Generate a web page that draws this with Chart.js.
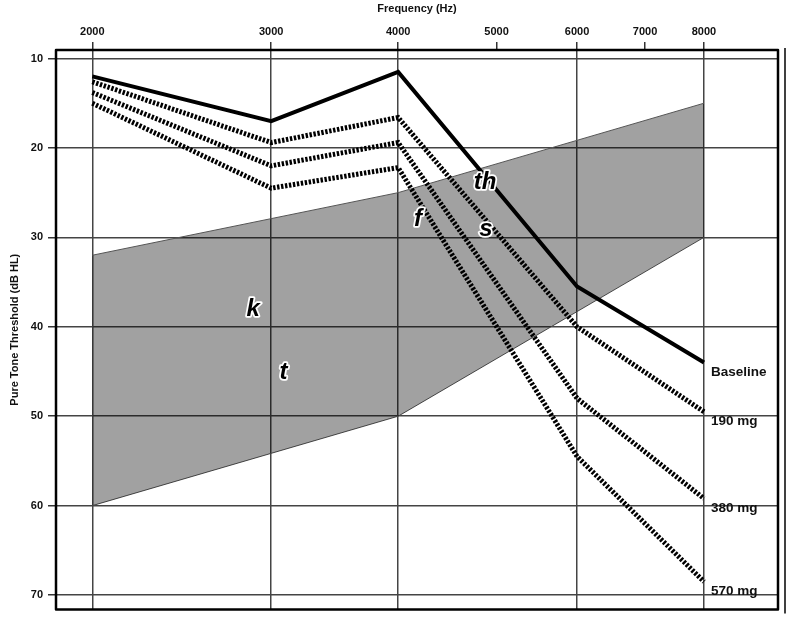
<!DOCTYPE html>
<html>
<head>
<meta charset="utf-8">
<script src="https://cdn.jsdelivr.net/npm/chart.js@4"></script>
<style>
  html, body { margin: 0; padding: 0; background: #fff; }
  #wrap { width: 800px; height: 621px; }
</style>
</head>
<body>
<div id="wrap"><canvas id="audiogram"></canvas></div>
<script>
// ------------------------------------------------------------
// Datos
// ------------------------------------------------------------
const frequencies = [2000, 3000, 4000, 6000, 8000];
const baseline    = [12, 17, 11.5, 35.5, 44];
const dose190     = [12.6, 19.4, 16.6, 40, 49.5];
const dose380     = [13.8, 22, 19.4, 48, 59.2];
const dose570     = [15, 24.5, 22.2, 54.5, 68.5];
const seriesNames = ['Baseline', '190 mg', '380 mg', '570 mg'];

// Zona gris (banana del habla)
const bandFreq  = [2000, 4000, 8000];
const bandUpper = [32, 25, 15];
const bandLower = [60, 50, 30];

// Fonemas
const phonemes    = ['k', 't', 'f', 's', 'th'];
const phonemeFreq = [2880, 3085, 4185, 4880, 4870];
const phonemeDb   = [38, 45.1, 28, 29.1, 23.9];

// Ticks
const xTicks = [2000, 3000, 4000, 5000, 6000, 7000, 8000];
const xGrid  = [2000, 3000, 4000, 6000, 8000];
const yTicks = [10, 20, 30, 40, 50, 60, 70];

const FONT = "'Liberation Sans', Arial, sans-serif";
const toPoints = (xs, ys) => xs.map((x, i) => ({ x, y: ys[i] }));

const lineStyle = (name, values, dotted) => ({
    label: name,
    data: toPoints(frequencies, values),
    borderColor: '#000',
    borderWidth: dotted ? 5 : 4,
    borderDash: dotted ? [2.4, 1.6] : [],
    borderCapStyle: 'butt',
    borderJoinStyle: 'miter',
    pointRadius: 0,
    fill: false,
    tension: 0,
    order: 1
});

// ------------------------------------------------------------
// Plugin: marco, etiquetas de series y fonemas
// ------------------------------------------------------------
const decorations = {
    id: 'decorations',
    afterDatasetsDraw(chart) {
        const { ctx, chartArea: a, scales } = chart;
        ctx.save();

        // etiquetas al final de cada serie
        ctx.font = 'bold 13.5px ' + FONT;
        ctx.fillStyle = '#111';
        ctx.textAlign = 'left';
        ctx.textBaseline = 'middle';
        seriesNames.forEach((name, i) => {
            const meta = chart.getDatasetMeta(i + 2);
            const p = meta.data[meta.data.length - 1];
            ctx.fillText(name, p.x + 7, p.y + 10);
        });

        // fonemas
        ctx.font = 'italic bold 24px ' + FONT;
        ctx.textAlign = 'center';
        ctx.lineJoin = 'round';
        phonemes.forEach((ph, i) => {
            const x = scales.x.getPixelForValue(phonemeFreq[i]);
            const y = scales.y.getPixelForValue(phonemeDb[i]);
            ctx.strokeStyle = '#fff';
            ctx.lineWidth = 3.5;
            ctx.strokeText(ph, x, y);
            ctx.fillStyle = '#000';
            ctx.fillText(ph, x, y);
        });

        // marco
        ctx.strokeStyle = '#000';
        ctx.lineWidth = 2.5;
        ctx.strokeRect(a.left, a.top, a.right - a.left, a.bottom - a.top);
        ctx.lineWidth = 1.5;
        ctx.beginPath();
        ctx.moveTo(a.right + 7, a.top - 2);
        ctx.lineTo(a.right + 7, a.bottom + 4);
        ctx.stroke();
        ctx.restore();
    }
};

new Chart(document.getElementById('audiogram'), {
    type: 'line',
    data: {
        datasets: [
            {
                label: 'upper',
                data: toPoints(bandFreq, bandUpper),
                borderColor: '#555',
                borderWidth: 1,
                backgroundColor: 'rgba(0,0,0,0.37)',
                pointRadius: 0,
                fill: '+1',
                order: 10
            },
            {
                label: 'lower',
                data: toPoints(bandFreq, bandLower),
                borderColor: '#555',
                borderWidth: 1,
                pointRadius: 0,
                fill: false,
                order: 10
            },
            lineStyle(seriesNames[0], baseline, false),
            lineStyle(seriesNames[1], dose190, true),
            lineStyle(seriesNames[2], dose380, true),
            lineStyle(seriesNames[3], dose570, true)
        ]
    },
    options: {
        responsive: true,
        maintainAspectRatio: false,
        animation: false,
        layout: { padding: { left: 0, top: 0, right: 22, bottom: 11 } },
        plugins: {
            legend: { display: false },
            tooltip: { enabled: false }
        },
        scales: {
            x: {
                type: 'logarithmic',
                position: 'top',
                min: 1842,
                max: 9461,
                afterBuildTicks: s => { s.ticks = xTicks.map(v => ({ value: v })); },
                afterFit: s => { s.height = 50; },
                ticks: {
                    autoSkip: false,
                    maxRotation: 0,
                    padding: 3,
                    color: '#111',
                    font: { family: FONT, size: 11, weight: 'bold' },
                    callback: v => String(v)
                },
                grid: {
                    color: c => (c.tick && xGrid.includes(c.tick.value)) ? '#444' : 'rgba(0,0,0,0)',
                    tickColor: '#333',
                    lineWidth: 1.5,
                    tickLength: 8
                },
                border: { display: false },
                title: {
                    display: true,
                    text: 'Frequency (Hz)',
                    color: '#111',
                    font: { family: FONT, size: 11, weight: 'bold' },
                    padding: { top: 2, bottom: 0 }
                }
            },
            y: {
                reverse: true,
                min: 9.05,
                max: 71.6,
                afterBuildTicks: s => { s.ticks = yTicks.map(v => ({ value: v })); },
                afterFit: s => { s.width = 56; },
                ticks: {
                    padding: 5,
                    color: '#111',
                    font: { family: FONT, size: 11, weight: 'bold' }
                },
                grid: {
                    color: '#444',
                    tickColor: '#333',
                    lineWidth: 1.5,
                    tickLength: 8
                },
                border: { display: false },
                title: {
                    display: true,
                    text: 'Pure Tone Threshold (dB HL)',
                    color: '#111',
                    font: { family: FONT, size: 11, weight: 'bold' },
                    padding: { top: 8, bottom: 0 }
                }
            }
        }
    },
    plugins: [decorations]
});
</script>
</body>
</html>
